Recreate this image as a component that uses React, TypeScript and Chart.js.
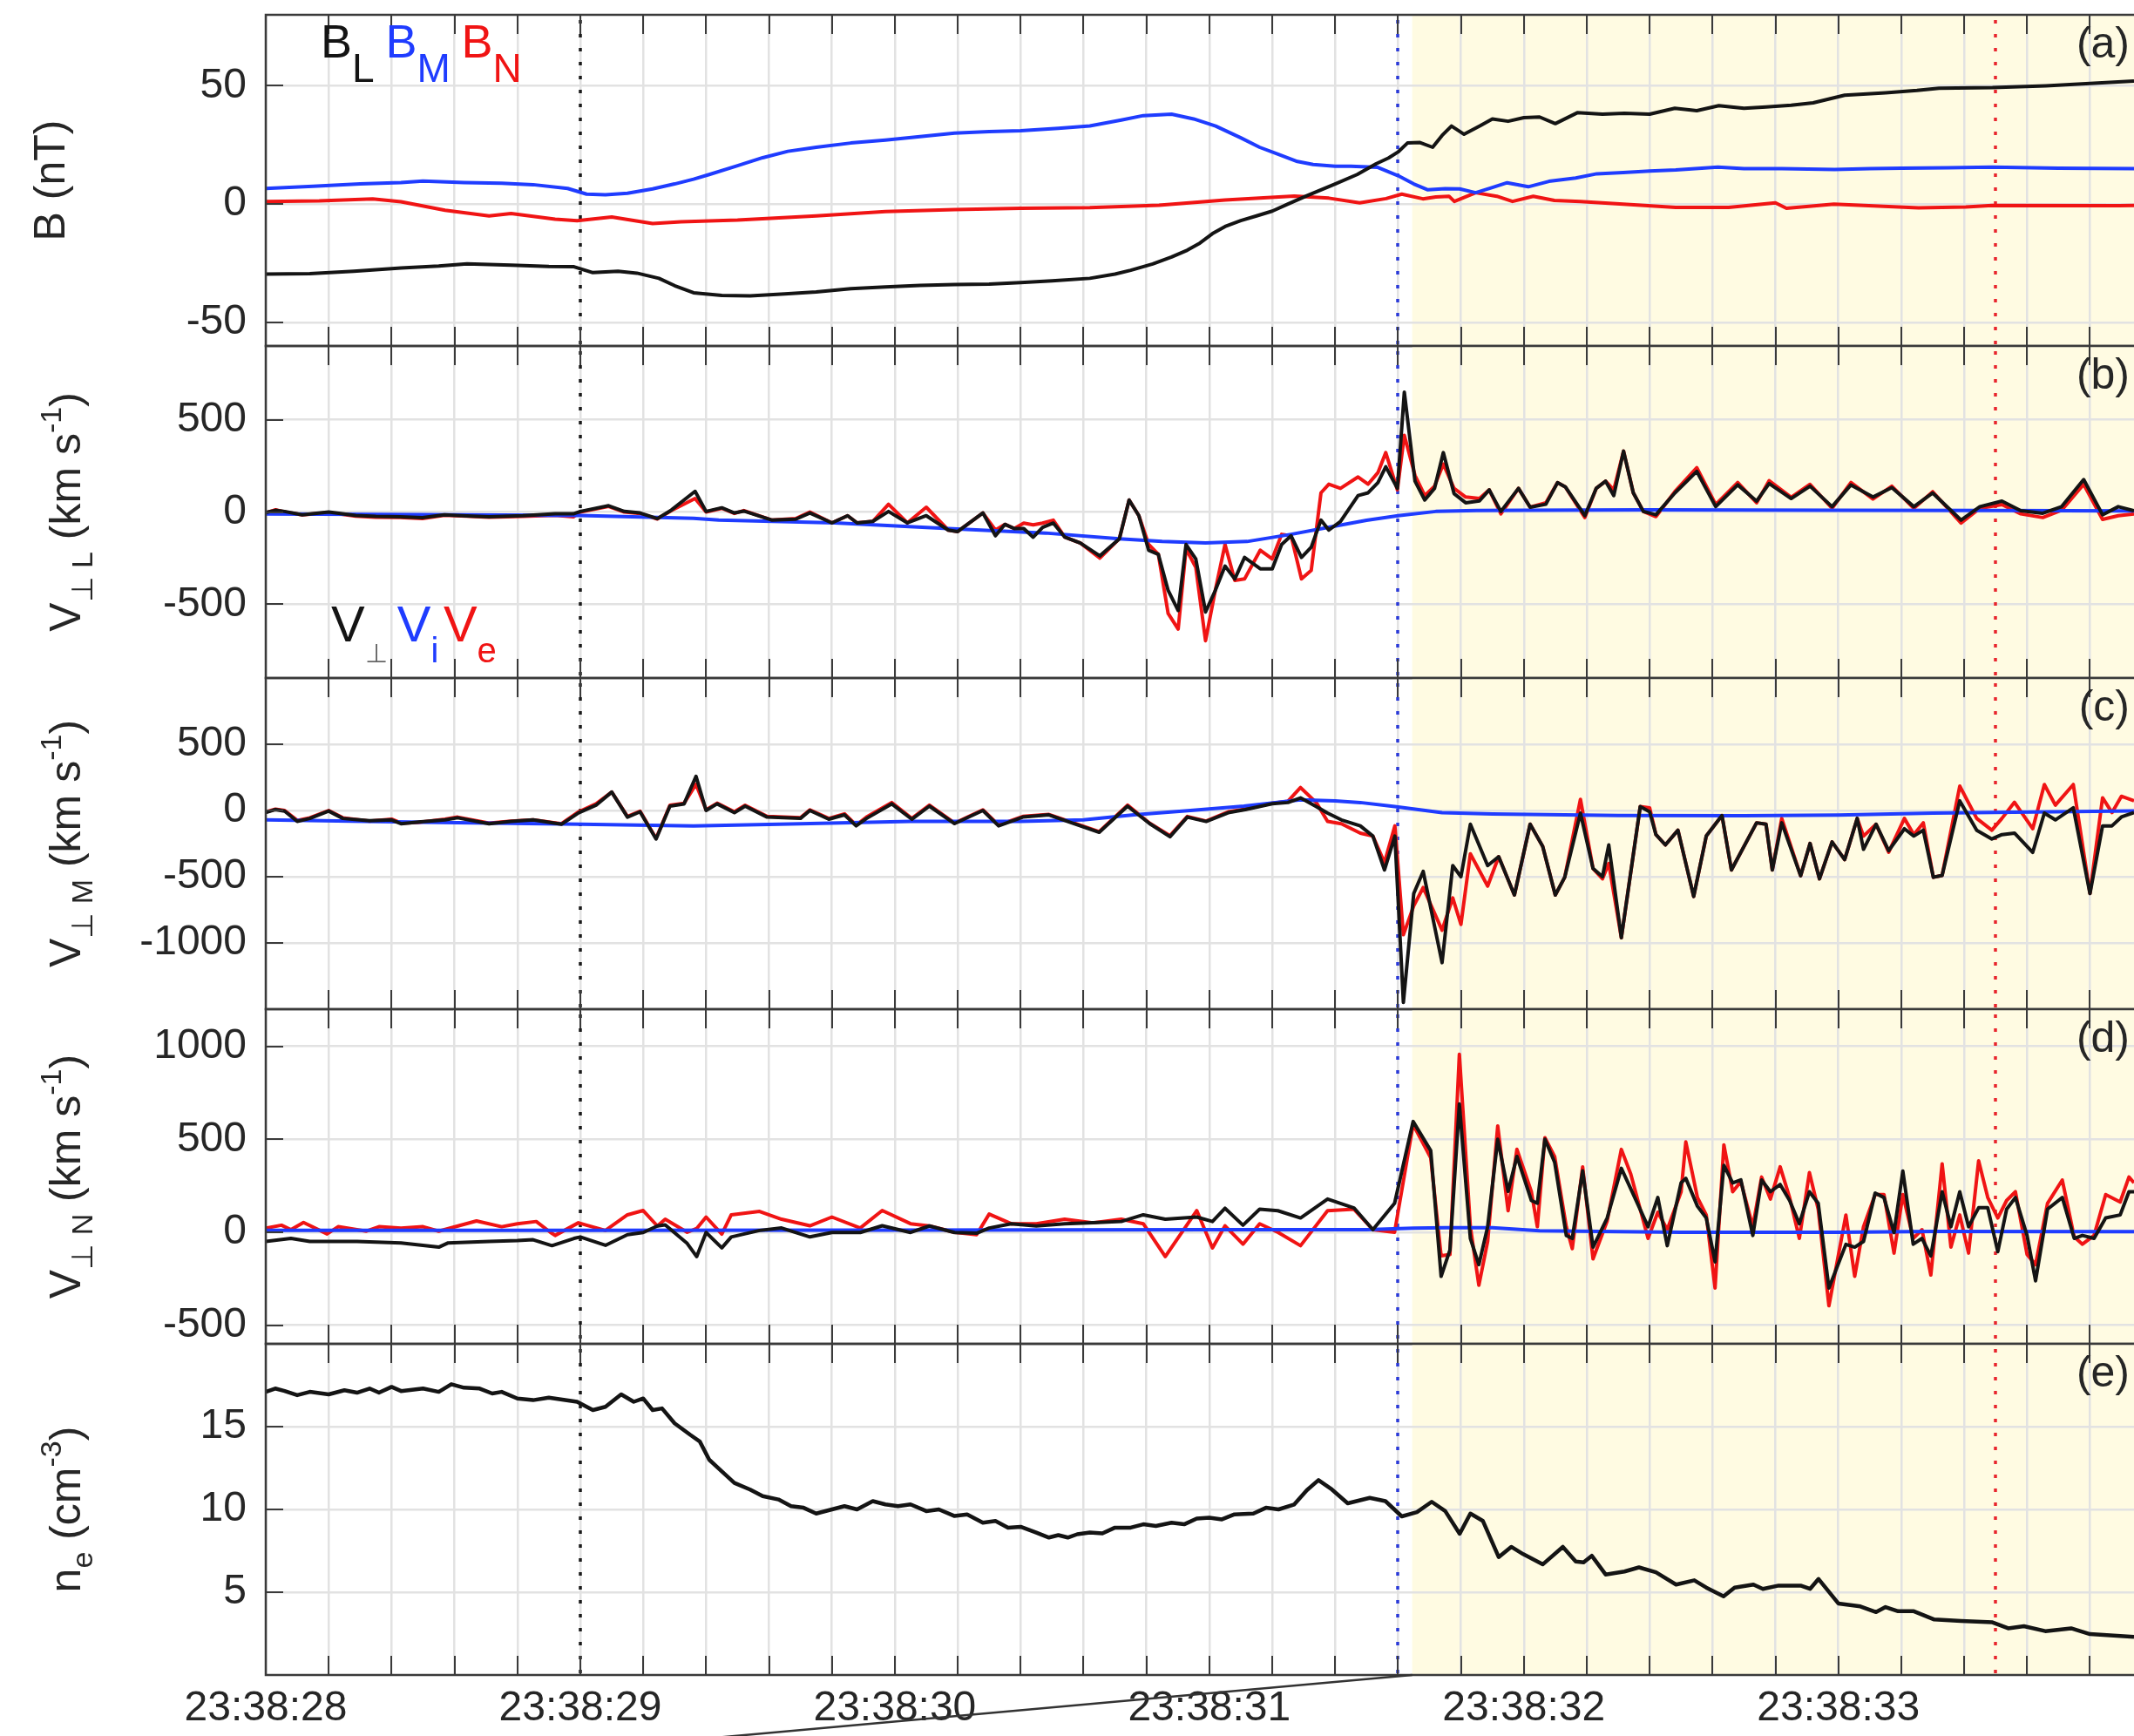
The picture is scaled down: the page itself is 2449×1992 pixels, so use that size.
import React, { useEffect, useRef } from 'react';
import { Chart, registerables } from 'chart.js';

Chart.register(...registerables);

const PAGE_W = 2449;
const PAGE_H = 1992;
const AXIS_LEFT = 305;
const FONT = "'Liberation Sans', Arial, Helvetica, sans-serif";
const INK = '#262626';
const FRAME = '#3a3a3a';
const BLACK = '#141414';
const BLUE = '#1f3cff';
const RED = '#f01414';
const GRID = '#e2e2e2';
const SHADE = '#fffbe2';

// time axis: seconds after 23:38:28 UT
const T_START = 0;
const T_END = 5.94;
const T_TICKS = [0, 0.2, 0.4, 0.6, 0.8, 1, 1.2, 1.4, 1.6, 1.8, 2, 2.2, 2.4, 2.6, 2.8, 3, 3.2, 3.4, 3.6, 3.8, 4, 4.2, 4.4, 4.6, 4.8, 5, 5.2, 5.4, 5.6, 5.8];
const T_LABEL_AT = [0, 1, 2, 3, 4, 5];
const T_LABELS = ['23:38:28', '23:38:29', '23:38:30', '23:38:31', '23:38:32', '23:38:33'];

// event markers and the highlighted interval
const MARK_T = [1.0, 3.6, 5.5];
const MARK_COLORS = ['#1a1a1a', '#2a3ad8', '#e8242c'];
const SHADE_FROM = 3.645;

// (a) magnetic field, nT
const B_TICKS = [-50, 0, 50];
const BL = [[0,-29.6],[0.14,-29.4],[0.28,-28.4],[0.43,-27],[0.55,-26.2],[0.64,-25.3],[0.78,-25.8],[0.9,-26.4],[0.98,-26.5],[1.04,-29],[1.12,-28.4],[1.18,-29.2],[1.25,-31.4],[1.3,-34.5],[1.36,-37.5],[1.45,-38.6],[1.54,-38.8],[1.65,-38],[1.75,-37.2],[1.86,-35.8],[1.97,-35],[2.08,-34.4],[2.19,-34],[2.3,-33.8],[2.4,-33.2],[2.5,-32.5],[2.62,-31.4],[2.7,-29.6],[2.75,-28],[2.82,-25.3],[2.88,-22.4],[2.93,-19.5],[2.97,-16.5],[3.01,-12.5],[3.05,-9.5],[3.1,-7],[3.15,-5],[3.2,-3],[3.25,0],[3.31,3.5],[3.4,8.5],[3.47,12.5],[3.53,17],[3.57,19.5],[3.6,22],[3.63,25.8],[3.67,26],[3.71,24],[3.74,29],[3.77,33],[3.81,29.5],[3.86,33],[3.9,36],[3.95,35],[4.0,36.5],[4.05,36.8],[4.1,34],[4.17,38.6],[4.25,38],[4.32,38.4],[4.4,38],[4.48,40.5],[4.55,39.5],[4.62,41.6],[4.7,40.5],[4.77,41],[4.85,41.8],[4.92,42.8],[5.02,46],[5.15,47],[5.25,48],[5.32,49],[5.49,49.2],[5.66,50],[5.8,51],[5.94,52]];
const BM = [[0,6.6],[0.15,7.5],[0.3,8.5],[0.43,9.1],[0.5,9.7],[0.63,9.1],[0.75,8.8],[0.85,8.2],[0.96,6.6],[1.02,4.2],[1.08,3.9],[1.15,4.6],[1.23,6.4],[1.3,8.5],[1.36,10.5],[1.41,12.5],[1.5,16.2],[1.58,19.6],[1.66,22.3],[1.75,24],[1.86,25.8],[1.97,27],[2.08,28.5],[2.19,30],[2.3,30.6],[2.4,31],[2.52,32],[2.62,33],[2.72,35.5],[2.79,37.4],[2.88,38],[2.95,36],[3.02,33],[3.1,28],[3.16,24],[3.22,21],[3.28,18],[3.33,16.7],[3.4,16],[3.45,16],[3.536,15.5],[3.6,12],[3.65,8.5],[3.695,6],[3.75,6.5],[3.796,6.4],[3.847,4.8],[3.9,7],[3.947,9],[4.014,7.3],[4.08,9.6],[4.165,11],[4.232,12.8],[4.316,13.3],[4.4,14],[4.483,14.4],[4.617,15.6],[4.7,15],[4.82,15],[4.988,14.6],[5.1,15],[5.2,15.2],[5.35,15.3],[5.489,15.6],[5.7,15.2],[5.94,15]];
const BN = [[0,1.1],[0.17,1.3],[0.34,2.2],[0.43,1.0],[0.57,-2.6],[0.71,-5],[0.78,-4],[0.92,-6.4],[0.99,-7],[1.1,-5.5],[1.23,-8.2],[1.32,-7.5],[1.5,-6.8],[1.75,-5],[1.97,-3.2],[2.19,-2.3],[2.4,-1.8],[2.62,-1.5],[2.84,-0.5],[3.05,1.7],[3.27,3.4],[3.38,2.5],[3.478,0.5],[3.562,2.3],[3.612,4.2],[3.679,2.2],[3.72,3.0],[3.762,3.3],[3.779,1.1],[3.847,4.8],[3.914,3.3],[3.964,1.1],[4.03,3.3],[4.097,1.5],[4.18,1.1],[4.316,0],[4.483,-1.4],[4.651,-1.4],[4.8,0.5],[4.835,-1.8],[4.986,0],[5.255,-1.6],[5.405,-1.2],[5.489,-0.6],[5.892,-0.7],[5.94,-0.6]];

// (b) perpendicular velocity, L component, km/s
const VL_TICKS = [-500, 0, 500];
const VL_PERP = [[0,-3],[0.031,9],[0.06,3],[0.116,-15],[0.2,0],[0.286,-19],[0.35,-24],[0.427,-26],[0.498,-31],[0.568,-15],[0.639,-21],[0.71,-26],[0.817,-20],[0.92,-10],[0.978,-10],[1.0,3],[1.09,34],[1.14,3],[1.19,-5],[1.245,-36],[1.29,11],[1.365,112],[1.4,3],[1.45,23],[1.49,-5],[1.52,5],[1.61,-44],[1.685,-39],[1.73,-5],[1.8,-59],[1.85,-20],[1.88,-59],[1.93,-51],[1.98,3],[2.04,-59],[2.1,-20],[2.17,-98],[2.2,-106],[2.28,-5],[2.32,-129],[2.35,-67],[2.38,-90],[2.41,-90],[2.44,-137],[2.47,-83],[2.504,-60],[2.541,-137],[2.59,-168],[2.652,-238],[2.714,-145],[2.745,65],[2.776,-20],[2.807,-207],[2.838,-230],[2.869,-425],[2.901,-534],[2.926,-176],[2.957,-254],[2.988,-542],[3.019,-425],[3.05,-293],[3.081,-363],[3.112,-246],[3.162,-308],[3.2,-308],[3.23,-176],[3.26,-129],[3.293,-246],[3.324,-191],[3.355,-44],[3.38,-98],[3.417,-51],[3.473,89],[3.505,104],[3.536,159],[3.561,245],[3.598,128],[3.62,650],[3.654,167],[3.685,65],[3.716,128],[3.744,322],[3.778,100],[3.815,50],[3.859,60],[3.89,120],[3.927,3],[3.983,128],[4.02,26],[4.07,42],[4.107,159],[4.132,136],[4.194,-20],[4.23,128],[4.26,167],[4.286,89],[4.317,330],[4.348,104],[4.38,3],[4.42,-15],[4.48,103],[4.55,220],[4.61,29],[4.68,147],[4.74,59],[4.78,154],[4.85,73],[4.91,140],[4.98,29],[5.04,147],[5.11,81],[5.17,132],[5.24,29],[5.3,103],[5.39,-44],[5.45,29],[5.52,59],[5.58,7],[5.65,-7],[5.71,29],[5.78,176],[5.84,-15],[5.89,29],[5.94,7]];
const VL_ION = [[0,-11],[0.5,-14],[1.0,-19],[1.36,-34],[1.44,-44],[1.81,-59],[2.17,-90],[2.479,-114],[2.714,-145],[2.85,-160],[2.988,-168],[3.12,-160],[3.26,-121],[3.38,-83],[3.5,-45],[3.6,-20],[3.72,3],[3.85,8],[4.0,10],[4.4,12],[5.0,10],[5.5,8],[5.94,6]];
const VL_ELE = [[0,-5],[0.031,12],[0.06,0],[0.116,-15],[0.2,-3],[0.286,-22],[0.35,-28],[0.427,-30],[0.498,-36],[0.568,-18],[0.639,-22],[0.71,-28],[0.817,-24],[0.92,-18],[0.978,-26],[1.0,0],[1.09,30],[1.14,0],[1.19,-8],[1.245,-38],[1.29,8],[1.365,73],[1.4,0],[1.45,20],[1.49,-8],[1.52,8],[1.61,-44],[1.685,-36],[1.73,0],[1.8,-59],[1.85,-20],[1.88,-59],[1.93,-51],[1.98,42],[2.04,-59],[2.1,26],[2.17,-98],[2.2,-106],[2.28,-5],[2.32,-98],[2.35,-67],[2.38,-90],[2.41,-60],[2.44,-70],[2.47,-60],[2.504,-44],[2.541,-137],[2.59,-168],[2.652,-250],[2.714,-145],[2.745,65],[2.776,-20],[2.807,-176],[2.838,-230],[2.869,-550],[2.901,-635],[2.926,-200],[2.957,-300],[2.988,-698],[3.019,-425],[3.05,-176],[3.081,-371],[3.112,-363],[3.162,-207],[3.2,-254],[3.23,-121],[3.26,-129],[3.293,-363],[3.324,-316],[3.355,104],[3.38,151],[3.417,128],[3.473,190],[3.505,151],[3.536,213],[3.561,322],[3.598,120],[3.62,416],[3.654,198],[3.685,89],[3.716,140],[3.744,260],[3.778,128],[3.815,81],[3.859,73],[3.89,120],[3.927,-10],[3.983,128],[4.02,26],[4.07,50],[4.107,159],[4.132,136],[4.194,-30],[4.23,128],[4.26,167],[4.286,120],[4.317,330],[4.348,104],[4.38,3],[4.42,-25],[4.48,110],[4.55,240],[4.61,40],[4.68,160],[4.74,50],[4.78,170],[4.85,80],[4.91,150],[4.98,20],[5.04,160],[5.11,70],[5.17,140],[5.24,20],[5.3,110],[5.39,-60],[5.45,20],[5.52,40],[5.58,-10],[5.65,-30],[5.71,10],[5.78,150],[5.84,-40],[5.89,-20],[5.94,-10]];

// (c) perpendicular velocity, M component, km/s
const VM_TICKS = [-1000, -500, 0, 500];
const VM_PERP = [[0,-16],[0.031,7],[0.06,-5],[0.1,-82],[0.14,-60],[0.2,-4],[0.245,-60],[0.33,-78],[0.4,-71],[0.43,-100],[0.485,-87],[0.57,-71],[0.61,-55],[0.71,-100],[0.78,-82],[0.85,-71],[0.94,-104],[0.995,-17],[1.05,40],[1.1,139],[1.15,-50],[1.19,-10],[1.241,-215],[1.285,33],[1.33,50],[1.368,258],[1.4,0],[1.435,50],[1.49,-17],[1.524,33],[1.594,-50],[1.7,-60],[1.73,0],[1.79,-66],[1.84,-33],[1.877,-116],[1.91,-60],[1.99,50],[2.054,-66],[2.11,33],[2.19,-99],[2.28,0],[2.33,-116],[2.407,-50],[2.49,-33],[2.57,-99],[2.65,-165],[2.74,33],[2.81,-99],[2.875,-198],[2.93,-50],[2.99,-83],[3.06,-17],[3.114,7],[3.2,51],[3.25,60],[3.29,95],[3.34,30],[3.376,-20],[3.42,-71],[3.48,-116],[3.52,-193],[3.557,-449],[3.59,-193],[3.617,-1449],[3.65,-627],[3.68,-460],[3.74,-1149],[3.774,-416],[3.8,-500],[3.83,-104],[3.885,-416],[3.92,-349],[3.97,-638],[4.02,-104],[4.06,-271],[4.1,-638],[4.13,-504],[4.18,-20],[4.22,-438],[4.25,-500],[4.27,-260],[4.31,-960],[4.37,29],[4.4,-10],[4.42,-182],[4.45,-260],[4.49,-149],[4.54,-649],[4.58,-193],[4.63,-38],[4.66,-449],[4.74,-93],[4.77,-104],[4.79,-449],[4.82,-93],[4.88,-493],[4.91,-249],[4.94,-516],[4.98,-238],[5.02,-371],[5.06,-60],[5.08,-293],[5.12,-104],[5.16,-304],[5.21,-138],[5.24,-193],[5.27,-149],[5.302,-504],[5.33,-490],[5.386,73],[5.44,-149],[5.488,-215],[5.52,-182],[5.56,-171],[5.618,-316],[5.655,-20],[5.69,-71],[5.747,20],[5.8,-627],[5.84,-116],[5.87,-116],[5.9,-49],[5.94,-16]];
const VM_ION = [[0,-71],[0.5,-88],[1.0,-104],[1.36,-116],[1.7,-100],[2.05,-83],[2.4,-83],[2.6,-70],[2.76,-33],[2.94,0],[3.11,33],[3.29,80],[3.4,73],[3.48,60],[3.59,29],[3.74,-16],[3.9,-27],[4.3,-38],[4.7,-40],[5.0,-34],[5.3,-20],[5.94,-4]];
const VM_ELE = [[0,-10],[0.031,10],[0.06,0],[0.1,-75],[0.14,-55],[0.2,0],[0.245,-55],[0.33,-80],[0.4,-65],[0.43,-95],[0.485,-90],[0.57,-65],[0.61,-50],[0.71,-95],[0.78,-80],[0.85,-70],[0.94,-100],[0.995,-10],[1.05,50],[1.1,139],[1.15,-45],[1.19,-5],[1.241,-210],[1.285,40],[1.33,55],[1.368,198],[1.4,5],[1.435,55],[1.49,-10],[1.524,40],[1.594,-45],[1.7,-55],[1.73,5],[1.79,-60],[1.84,-25],[1.877,-110],[1.91,-50],[1.99,60],[2.054,-60],[2.11,40],[2.19,-95],[2.28,5],[2.33,-110],[2.407,-45],[2.49,-30],[2.57,-95],[2.65,-160],[2.74,40],[2.81,-95],[2.875,-190],[2.93,-45],[2.99,-80],[3.06,-10],[3.114,10],[3.2,55],[3.25,70],[3.29,173],[3.34,60],[3.376,-82],[3.42,-100],[3.48,-171],[3.52,-193],[3.557,-393],[3.59,-116],[3.617,-938],[3.65,-720],[3.68,-582],[3.74,-904],[3.774,-660],[3.8,-860],[3.83,-327],[3.885,-571],[3.92,-349],[3.97,-638],[4.02,-104],[4.06,-271],[4.1,-638],[4.13,-504],[4.18,84],[4.22,-438],[4.25,-516],[4.27,-400],[4.31,-960],[4.37,29],[4.4,20],[4.42,-182],[4.45,-260],[4.49,-149],[4.54,-649],[4.58,-193],[4.63,-38],[4.66,-449],[4.74,-93],[4.77,-104],[4.79,-449],[4.82,-60],[4.88,-493],[4.91,-249],[4.94,-516],[4.98,-238],[5.02,-371],[5.06,-60],[5.08,-193],[5.12,-104],[5.16,-315],[5.21,-60],[5.24,-182],[5.27,-93],[5.302,-504],[5.33,-490],[5.386,184],[5.44,-60],[5.488,-149],[5.52,-60],[5.56,62],[5.618,-138],[5.655,196],[5.69,40],[5.747,196],[5.8,-627],[5.84,96],[5.87,-16],[5.9,107],[5.94,73]];

// (d) perpendicular velocity, N component, km/s
const VN_TICKS = [-500, 0, 500, 1000];
const VN_PERP = [[0,-49],[0.08,-33],[0.14,-49],[0.29,-49],[0.43,-57],[0.55,-80],[0.58,-57],[0.71,-49],[0.8,-45],[0.85,-40],[0.91,-72],[0.98,-33],[1.0,-25],[1.08,-70],[1.15,-13],[1.2,-1],[1.245,34],[1.27,40],[1.34,-60],[1.37,-131],[1.4,-1],[1.45,-84],[1.48,-25],[1.57,10],[1.64,23],[1.73,-25],[1.8,-1],[1.89,-1],[1.96,35],[2.05,-1],[2.11,34],[2.19,-1],[2.26,-5],[2.3,23],[2.37,46],[2.45,34],[2.54,46],[2.63,51],[2.72,58],[2.79,94],[2.86,70],[2.96,82],[3.01,58],[3.05,129],[3.107,38],[3.16,124],[3.218,116],[3.29,77],[3.376,179],[3.46,131],[3.52,14],[3.589,156],[3.648,596],[3.704,439],[3.737,-237],[3.765,-96],[3.795,690],[3.83,-33],[3.857,-174],[3.885,30],[3.917,500],[3.95,220],[3.978,408],[4.024,171],[4.043,156],[4.067,500],[4.098,376],[4.135,-17],[4.154,-33],[4.187,330],[4.22,-80],[4.265,77],[4.31,344],[4.34,234],[4.395,30],[4.426,187],[4.456,-72],[4.5,266],[4.515,290],[4.552,140],[4.58,77],[4.608,-159],[4.636,360],[4.664,265],[4.69,282],[4.728,-17],[4.756,281],[4.784,218],[4.815,257],[4.845,171],[4.876,46],[4.908,218],[4.936,156],[4.97,-300],[5.024,-65],[5.052,-80],[5.08,-49],[5.117,211],[5.145,187],[5.177,-2],[5.205,329],[5.238,-64],[5.266,-33],[5.294,-127],[5.33,218],[5.358,30],[5.386,218],[5.414,30],[5.446,132],[5.475,132],[5.507,-104],[5.535,124],[5.563,187],[5.6,-17],[5.627,-261],[5.665,124],[5.712,187],[5.75,-33],[5.776,-17],[5.813,-33],[5.85,77],[5.896,93],[5.924,218],[5.94,218]];
const VN_ION = [[0,10],[1.0,10],[2.0,12],[3.0,14],[3.5,14],[3.65,22],[3.75,25],[3.9,25],[4.05,8],[4.5,0],[5.0,0],[5.3,5],[5.94,3]];
const VN_ELE = [[0,22],[0.05,38],[0.08,14],[0.12,53],[0.195,-9],[0.23,30],[0.32,6],[0.36,30],[0.43,22],[0.5,30],[0.55,6],[0.67,61],[0.75,30],[0.8,46],[0.86,58],[0.905,0],[0.92,-17],[0.994,51],[1.02,38],[1.08,10],[1.15,94],[1.2,117],[1.245,34],[1.27,70],[1.34,0],[1.37,20],[1.4,82],[1.45,-10],[1.48,94],[1.57,112],[1.64,70],[1.73,35],[1.8,82],[1.89,23],[1.96,117],[2.05,46],[2.11,34],[2.19,0],[2.26,-13],[2.3,98],[2.37,46],[2.45,46],[2.54,70],[2.63,51],[2.72,70],[2.79,46],[2.86,-131],[2.96,117],[3.01,-84],[3.05,35],[3.107,-64],[3.16,46],[3.218,0],[3.29,-72],[3.376,116],[3.46,124],[3.52,14],[3.589,0],[3.648,580],[3.704,400],[3.737,-127],[3.765,-120],[3.795,957],[3.83,30],[3.857,-285],[3.885,-49],[3.917,572],[3.95,116],[3.978,446],[4.024,218],[4.043,30],[4.067,509],[4.098,407],[4.135,30],[4.154,-88],[4.187,352],[4.22,-143],[4.265,61],[4.31,446],[4.34,313],[4.395,-33],[4.426,108],[4.456,14],[4.5,218],[4.515,486],[4.552,187],[4.58,93],[4.608,-300],[4.636,470],[4.664,218],[4.69,273],[4.728,30],[4.756,297],[4.784,179],[4.815,352],[4.845,187],[4.876,-33],[4.908,321],[4.936,124],[4.97,-395],[5.024,93],[5.052,-237],[5.08,30],[5.117,203],[5.145,203],[5.177,-112],[5.205,203],[5.238,-33],[5.266,14],[5.294,-230],[5.33,368],[5.358,-80],[5.386,93],[5.414,-112],[5.446,384],[5.475,187],[5.507,77],[5.535,171],[5.563,218],[5.6,-119],[5.627,-174],[5.665,155],[5.712,281],[5.75,-25],[5.776,-64],[5.813,-17],[5.85,203],[5.896,163],[5.924,297],[5.94,266]];

// (e) electron density, cm^-3
const NE_TICKS = [5, 10, 15];
const NE = [[0,17.1],[0.03,17.3],[0.06,17.15],[0.1,16.9],[0.14,17.1],[0.2,16.95],[0.25,17.2],[0.29,17.05],[0.33,17.3],[0.36,17.05],[0.4,17.4],[0.43,17.15],[0.5,17.3],[0.55,17.1],[0.59,17.56],[0.63,17.35],[0.68,17.3],[0.72,17.0],[0.75,17.1],[0.8,16.7],[0.85,16.6],[0.9,16.75],[0.99,16.5],[1.04,16.0],[1.08,16.2],[1.13,16.95],[1.17,16.5],[1.2,16.7],[1.23,16.0],[1.26,16.1],[1.3,15.2],[1.35,14.5],[1.38,14.1],[1.41,13.0],[1.45,12.3],[1.49,11.6],[1.54,11.2],[1.58,10.8],[1.63,10.6],[1.67,10.2],[1.71,10.1],[1.75,9.75],[1.8,10.0],[1.84,10.2],[1.88,10.0],[1.93,10.5],[1.97,10.3],[2.01,10.2],[2.05,10.3],[2.1,9.9],[2.14,10.0],[2.19,9.6],[2.23,9.7],[2.28,9.2],[2.32,9.3],[2.36,8.9],[2.4,8.95],[2.45,8.6],[2.49,8.3],[2.52,8.45],[2.55,8.3],[2.58,8.5],[2.62,8.6],[2.66,8.55],[2.7,8.9],[2.75,8.9],[2.79,9.1],[2.83,9.0],[2.88,9.2],[2.92,9.1],[2.96,9.45],[3.0,9.5],[3.04,9.4],[3.08,9.7],[3.14,9.75],[3.18,10.1],[3.22,10.0],[3.27,10.3],[3.31,11.16],[3.347,11.77],[3.39,11.2],[3.44,10.37],[3.51,10.7],[3.56,10.5],[3.612,9.58],[3.66,9.84],[3.707,10.46],[3.75,9.9],[3.796,8.53],[3.83,9.75],[3.87,9.3],[3.92,7.12],[3.96,7.74],[3.998,7.3],[4.06,6.68],[4.124,7.74],[4.165,6.86],[4.19,6.8],[4.216,7.2],[4.26,6.07],[4.32,6.25],[4.366,6.5],[4.42,6.2],[4.484,5.46],[4.542,5.72],[4.58,5.28],[4.635,4.75],[4.67,5.28],[4.73,5.46],[4.76,5.2],[4.81,5.4],[4.88,5.4],[4.91,5.2],[4.937,5.8],[5.0,4.32],[5.07,4.14],[5.12,3.8],[5.15,4.1],[5.19,3.85],[5.24,3.85],[5.305,3.35],[5.39,3.26],[5.49,3.18],[5.54,2.82],[5.59,2.95],[5.658,2.65],[5.74,2.82],[5.8,2.47],[5.94,2.3]];

type Seg = { t: string; c?: string; v?: 'sub' | 'sup'; s?: number };

interface Legend { segs: Seg[]; x: number; y: number; size: number; small: number; subDy: number }

interface Panel {
  id: string;
  top: number;
  bottom: number;
  yMin: number;
  yMax: number;
  yTicks: number[];
  series: { pts: number[][]; color: string }[];
  lineWidth: number;
  title: Seg[];
  titleX: number;
  letter: string;
  legend?: Legend;
  timeAxis?: boolean;
}

const velTitle = (comp: string): Seg[] => [
  { t: 'V' }, { t: '\u22A5 ' + comp, v: 'sub' }, { t: ' (km s' }, { t: '-1', v: 'sup' }, { t: ')' },
];

const PANELS: Panel[] = [
  {
    id: 'a', top: 17, bottom: 397, yMin: -60, yMax: 80, yTicks: B_TICKS,
    series: [{ pts: BL, color: BLACK }, { pts: BM, color: BLUE }, { pts: BN, color: RED }],
    lineWidth: 4,
    title: [{ t: 'B (nT)' }], titleX: 74, letter: '(a)',
    legend: {
      segs: [
        { t: 'B', c: BLACK }, { t: 'L', c: BLACK, v: 'sub' }, { t: ' ', v: 'sub' },
        { t: 'B', c: BLUE }, { t: 'M', c: BLUE, v: 'sub' }, { t: ' ', v: 'sub' },
        { t: 'B', c: RED }, { t: 'N', c: RED, v: 'sub' },
      ],
      x: 368, y: 66, size: 54, small: 46, subDy: 28,
    },
  },
  {
    id: 'b', top: 397, bottom: 778, yMin: -900, yMax: 900, yTicks: VL_TICKS,
    series: [{ pts: VL_PERP, color: BLACK }, { pts: VL_ION, color: BLUE }, { pts: VL_ELE, color: RED }],
    lineWidth: 4,
    title: velTitle('L'), titleX: 92, letter: '(b)',
    legend: {
      segs: [
        { t: 'V', c: BLACK }, { t: '\u22A5', c: '#666', v: 'sub', s: 30 }, { t: ' ', v: 'sub' },
        { t: 'V', c: BLUE }, { t: 'i', c: BLUE, v: 'sub' }, { t: ' ', v: 'sub', s: 20 },
        { t: 'V', c: RED }, { t: 'e', c: RED, v: 'sub' },
      ],
      x: 380, y: 736, size: 58, small: 40, subDy: 24,
    },
  },
  {
    id: 'c', top: 778, bottom: 1158, yMin: -1500, yMax: 1000, yTicks: VM_TICKS,
    series: [{ pts: VM_PERP, color: BLACK }, { pts: VM_ION, color: BLUE }, { pts: VM_ELE, color: RED }],
    lineWidth: 4,
    title: velTitle('M'), titleX: 92, letter: '(c)',
  },
  {
    id: 'd', top: 1158, bottom: 1542, yMin: -600, yMax: 1200, yTicks: VN_TICKS,
    series: [{ pts: VN_PERP, color: BLACK }, { pts: VN_ION, color: BLUE }, { pts: VN_ELE, color: RED }],
    lineWidth: 4,
    title: velTitle('N'), titleX: 92, letter: '(d)',
  },
  {
    id: 'e', top: 1542, bottom: 1922, yMin: 0, yMax: 20, yTicks: NE_TICKS,
    series: [{ pts: NE, color: BLACK }],
    lineWidth: 4.5,
    title: [{ t: 'n' }, { t: 'e', v: 'sub' }, { t: ' (cm' }, { t: '-3', v: 'sup' }, { t: ')' }],
    titleX: 92, letter: '(e)', timeAxis: true,
  },
];

function drawRich(
  ctx: CanvasRenderingContext2D, segs: Seg[], x: number, y: number,
  size: number, small: number, subDy: number, supDy: number, centered: boolean,
) {
  const fontOf = (s: Seg) => `${s.s || (s.v ? small : size)}px ${FONT}`;
  const widths = segs.map((s) => {
    ctx.font = fontOf(s);
    return ctx.measureText(s.t).width;
  });
  const total = widths.reduce((a, b) => a + b, 0);
  let cx = centered ? x - total / 2 : x;
  ctx.textAlign = 'left';
  ctx.textBaseline = 'alphabetic';
  segs.forEach((s, i) => {
    ctx.font = fontOf(s);
    ctx.fillStyle = s.c || INK;
    const dy = s.v === 'sub' ? subDy : s.v === 'sup' ? -supDy : 0;
    ctx.fillText(s.t, cx, y + dy);
    cx += widths[i];
  });
}

function panelPlugin(p: Panel) {
  return {
    id: 'panel_' + p.id,
    beforeDraw(chart: any) {
      const { ctx, chartArea: a } = chart;
      const x = chart.scales.x;
      const xs = x.getPixelForValue(SHADE_FROM);
      ctx.save();
      ctx.fillStyle = SHADE;
      ctx.fillRect(xs, a.top, a.right - xs, a.bottom - a.top);
      ctx.restore();
    },
    beforeDatasetsDraw(chart: any) {
      const { ctx, chartArea: a } = chart;
      const x = chart.scales.x;
      ctx.save();
      ctx.lineWidth = 3.5;
      ctx.setLineDash([4, 12]);
      MARK_T.forEach((t, i) => {
        const px = Math.round(x.getPixelForValue(t));
        ctx.strokeStyle = MARK_COLORS[i];
        ctx.beginPath();
        ctx.moveTo(px, a.top + 6);
        ctx.lineTo(px, a.bottom);
        ctx.stroke();
      });
      ctx.restore();
    },
    afterDatasetsDraw(chart: any) {
      const { ctx, chartArea: a } = chart;
      const x = chart.scales.x;
      const y = chart.scales.y;
      ctx.save();
      // frame (the right edge runs off the page)
      ctx.strokeStyle = FRAME;
      ctx.lineWidth = 2.5;
      ctx.beginPath();
      ctx.moveTo(a.right + 2, a.top);
      ctx.lineTo(a.left, a.top);
      ctx.lineTo(a.left, a.bottom);
      ctx.lineTo(a.right + 2, a.bottom);
      ctx.stroke();
      // inward tick marks
      ctx.lineWidth = 2;
      ctx.beginPath();
      T_TICKS.forEach((t) => {
        const px = Math.round(x.getPixelForValue(t));
        if (px <= a.left + 1 || px > a.right) return;
        ctx.moveTo(px, a.top);
        ctx.lineTo(px, a.top + 22);
        ctx.moveTo(px, a.bottom);
        ctx.lineTo(px, a.bottom - 22);
      });
      p.yTicks.forEach((v) => {
        const py = Math.round(y.getPixelForValue(v));
        ctx.moveTo(a.left, py);
        ctx.lineTo(a.left + 20, py);
      });
      ctx.stroke();
      // panel letter
      ctx.fillStyle = INK;
      ctx.font = `50px ${FONT}`;
      ctx.textAlign = 'right';
      ctx.textBaseline = 'top';
      ctx.fillText(p.letter, PAGE_W - 5, a.top + 10);
      // in-panel legend
      if (p.legend) {
        const L = p.legend;
        drawRich(ctx, L.segs, L.x, L.y, L.size, L.small, L.subDy, 0, false);
      }
      // rotated axis title
      ctx.save();
      ctx.translate(p.titleX, (a.top + a.bottom) / 2);
      ctx.rotate(-Math.PI / 2);
      drawRich(ctx, p.title, 0, 0, 50, 34, 14, 22, true);
      ctx.restore();
      // connector from the start of the highlighted interval
      if (p.timeAxis) {
        const xs = x.getPixelForValue(SHADE_FROM);
        ctx.strokeStyle = '#333';
        ctx.lineWidth = 2.5;
        ctx.beginPath();
        ctx.moveTo(xs, a.bottom);
        ctx.lineTo(xs - 800, a.bottom + 72);
        ctx.stroke();
      }
      ctx.restore();
    },
  };
}

function makeChart(canvas: HTMLCanvasElement, p: Panel) {
  const xAxisH = p.timeAxis ? PAGE_H - p.bottom : 0;
  return new Chart(canvas, {
    type: 'line',
    data: {
      datasets: p.series.map((s) => ({
        data: s.pts.map(([t, v]) => ({ x: t, y: v })),
        borderColor: s.color,
        borderWidth: p.lineWidth,
        borderJoinStyle: 'round',
        pointRadius: 0,
        tension: 0,
        fill: false,
      })),
    },
    options: {
      responsive: false,
      animation: false,
      devicePixelRatio: 1,
      events: [],
      layout: {
        autoPadding: false,
        padding: { left: 0, right: 0, top: p.top, bottom: PAGE_H - p.bottom - xAxisH },
      },
      plugins: { legend: { display: false }, tooltip: { enabled: false } },
      scales: {
        x: {
          type: 'linear',
          position: 'bottom',
          min: T_START,
          max: T_END,
          afterBuildTicks: (s: any) => { s.ticks = T_TICKS.map((v) => ({ value: v })); },
          afterFit: (s: any) => { s.height = xAxisH; s.paddingLeft = 0; s.paddingRight = 0; },
          grid: { color: GRID, lineWidth: 2.5, drawTicks: false },
          border: { display: false },
          ticks: {
            display: !!p.timeAxis,
            autoSkip: false,
            maxRotation: 0,
            minRotation: 0,
            padding: 10,
            color: INK,
            font: { family: FONT, size: 48 },
            callback: (v: any) => {
              const i = T_LABEL_AT.indexOf(Number(v));
              return i >= 0 ? T_LABELS[i] : '';
            },
          },
        },
        y: {
          type: 'linear',
          position: 'left',
          min: p.yMin,
          max: p.yMax,
          afterBuildTicks: (s: any) => { s.ticks = p.yTicks.map((v) => ({ value: v })); },
          afterFit: (s: any) => { s.width = AXIS_LEFT; s.paddingTop = 0; s.paddingBottom = 0; },
          grid: { color: GRID, lineWidth: 2.5, drawTicks: false },
          border: { display: false },
          ticks: {
            padding: 22,
            color: INK,
            font: { family: FONT, size: 48 },
            callback: (v: any) => String(v),
          },
        },
      },
    },
    plugins: [panelPlugin(p)],
  } as any);
}

export default function App() {
  const refs = useRef<(HTMLCanvasElement | null)[]>([]);
  useEffect(() => {
    const charts = PANELS.map((p, i) => makeChart(refs.current[i] as HTMLCanvasElement, p));
    return () => charts.forEach((c) => c.destroy());
  }, []);
  return (
    <div style={{ position: 'absolute', left: 0, top: 0, width: PAGE_W, height: PAGE_H, background: '#fff', overflow: 'hidden' }}>
      {PANELS.map((p, i) => (
        <canvas
          key={p.id}
          ref={(el) => { refs.current[i] = el; }}
          width={PAGE_W}
          height={PAGE_H}
          style={{ position: 'absolute', left: 0, top: 0, width: PAGE_W, height: PAGE_H }}
        />
      ))}
    </div>
  );
}
